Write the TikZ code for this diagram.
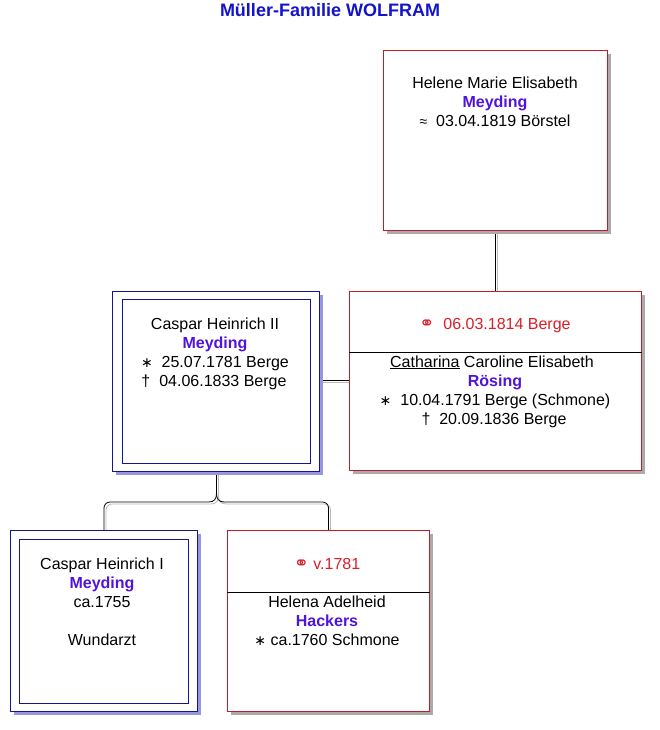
\documentclass[tikz,border=0pt]{standalone}
\usepackage{fontspec}
\setmainfont{Liberation Sans}
\newfontfamily\dejavu{DejaVu Sans}
\usetikzlibrary{shadows,backgrounds}
\definecolor{boxred}{RGB}{190,30,40}
\definecolor{boxblue}{RGB}{20,20,140}
\definecolor{shgray}{RGB}{170,170,170}
\definecolor{shblue}{RGB}{150,150,225}
\definecolor{namecol}{RGB}{80,20,220}
\definecolor{marcol}{RGB}{220,30,40}
\definecolor{titlecol}{RGB}{20,20,200}
\definecolor{conngray}{RGB}{185,185,185}
\newcommand{\gebsym}{{\dejavu\fontsize{14}{14}\selectfont ∗}}
\newcommand{\todsym}{†}
\newcommand{\marsym}{{\dejavu\fontsize{18}{18}\selectfont ⚭}}
\newcommand{\taufsym}{{\fontsize{14}{14}\selectfont ≈}}
\begin{document}
\begin{tikzpicture}[x=1pt,y=-1pt,
  redbox/.style={draw=boxred, line width=1pt, fill=white, inner sep=0pt, anchor=north west,
    drop shadow={shadow xshift=3.5pt, shadow yshift=-3.5pt, fill=shgray, opacity=1}},
  bluebox/.style={draw=boxblue, line width=1pt, fill=white, inner sep=0pt, anchor=north west,
    drop shadow={shadow xshift=3.5pt, shadow yshift=-3.5pt, fill=shblue, opacity=1}},
  blueinner/.style={draw=boxblue, line width=1pt},
  sepline/.style={draw=black, line width=0.8pt},
  txt/.style={anchor=base, inner sep=0pt, font=\fontsize{16}{19}\selectfont},
  nm/.style={anchor=base, inner sep=0pt, font=\fontsize{16}{19}\selectfont\bfseries, text=namecol},
  mar/.style={anchor=base, inner sep=0pt, font=\fontsize{16}{19}\selectfont, text=marcol},
  conn/.style={draw=black, line width=0.8pt},
  ghost/.style={draw=conngray, line width=0.8pt, transform canvas={shift={(2pt,-2pt)}}}]
\useasboundingbox (0,0) rectangle (660,730);
\begin{scope}[on background layer]
\fill[white] (0,0) rectangle (660,730);
\end{scope}

% title
\node[anchor=base, inner sep=0pt, font=\fontsize{18}{20}\selectfont\bfseries, text=titlecol] (title) at (330,17) {Müller-Familie WOLFRAM};

% boxes
\node[redbox, minimum width=224pt, minimum height=180pt] (helene) at (383,50) {};
\node[redbox, minimum width=292pt, minimum height=179pt] (cath) at (349,291) {};
\node[bluebox, minimum width=207pt, minimum height=180pt] (c2) at (112,291) {};
\node[bluebox, minimum width=187pt, minimum height=181pt] (c1) at (10,530) {};
\node[redbox, minimum width=202pt, minimum height=181pt] (helena) at (227,530) {};

\draw[blueinner] ([shift={(10pt,-8pt)}]c2.north west) rectangle ([shift={(-10pt,9pt)}]c2.south east);
\draw[blueinner] ([shift={(9pt,-9pt)}]c1.north west) rectangle ([shift={(-10pt,9pt)}]c1.south east);
\draw[sepline] ([yshift=-61pt]cath.north west) -- ([yshift=-61pt]cath.north east);
\draw[sepline] ([yshift=-62pt]helena.north west) -- ([yshift=-62pt]helena.north east);

% texts: Helene
\node[txt] (h1) at (495,89) {Helene Marie Elisabeth};
\node[nm]  (h2) at (495,108) {Meyding};
\node[txt] (h3) at (495,127) {\taufsym\ \ 03.04.1819 Börstel};

% Catharina
\node[mar] (k0) at (495,329) {\marsym\ \ 06.03.1814 Berge};
\node[txt] (k1) at (492,367) {\underline{Catharina} Caroline Elisabeth};
\node[nm]  (k2) at (495,386) {Rösing};
\node[txt] (k3) at (495,405) {\gebsym\ \ 10.04.1791 Berge (Schmone)};
\node[txt] (k4) at (494,424) {\todsym\ \ 20.09.1836 Berge};

% Caspar Heinrich II
\node[txt] (a1) at (215,329) {Caspar Heinrich II};
\node[nm]  (a2) at (215,348) {Meyding};
\node[txt] (a3) at (215,367) {\gebsym\ \ 25.07.1781 Berge};
\node[txt] (a4) at (214,386) {\todsym\ \ 04.06.1833 Berge};

% Caspar Heinrich I
\node[txt] (b1) at (102,569) {Caspar Heinrich I};
\node[nm]  (b2) at (102,588) {Meyding};
\node[txt] (b3) at (102,607) {ca.1755};
\node[txt] (b4) at (102,645) {Wundarzt};

% Helena
\node[mar] (e0) at (327,569) {\marsym\ v.1781};
\node[txt] (e1) at (327,607) {Helena Adelheid};
\node[nm]  (e2) at (327,626) {Hackers};
\node[txt] (e3) at (327,645) {\gebsym\ ca.1760 Schmone};

% connectors
\coordinate (stem) at ([xshift=0.5pt]c2.south);
\coordinate (fork) at ([xshift=0.5pt,yshift=-21pt]c2.south);
\coordinate (bar) at ([yshift=-30pt]c2.south);
\begin{scope}[on background layer]
\foreach \st in {ghost,conn}{
  \draw[\st] (helene.south) -- (cath.north);
  \draw[\st] ([yshift=-89pt]c2.north east) -- ([yshift=-89pt]c2.north east -| cath.west);
  \draw[\st] (stem) -- (fork) .. controls +(0,6) and +(6,0) .. ([xshift=-8pt,yshift=-9pt]fork)
     [rounded corners=6pt] -- (c1.north |- bar) -- (c1.north);
  \draw[\st] (fork) .. controls +(0,6) and +(-6,0) .. ([xshift=8pt,yshift=-9pt]fork)
     [rounded corners=6pt] -- (helena.north |- bar) -- (helena.north);
}
\end{scope}
\end{tikzpicture}
\end{document}
